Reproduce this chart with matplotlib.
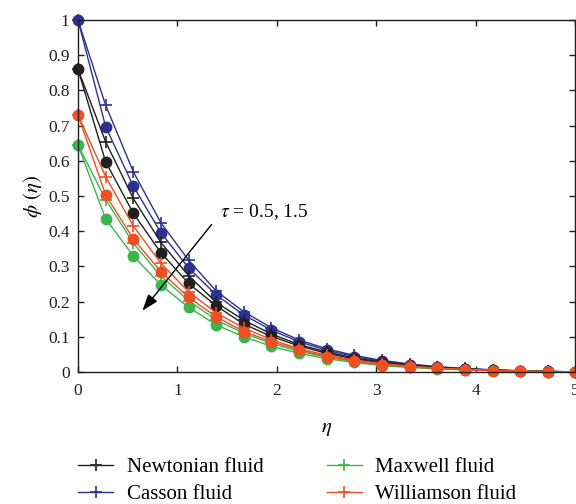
import matplotlib
matplotlib.use("Agg")
import matplotlib.pyplot as plt
from matplotlib.lines import Line2D

plt.rcParams['font.family'] = ['Liberation Serif', 'DejaVu Serif']
plt.rcParams['mathtext.fontset'] = 'stix'

# eta grid (19 points from 0 to 5)
eta = [0.000, 0.278, 0.556, 0.833, 1.111, 1.389, 1.667, 1.944, 2.222, 2.500,
       2.778, 3.056, 3.333, 3.611, 3.889, 4.167, 4.444, 4.722, 5.000]

# circles: tau = 0.5, plus: tau = 1.5
casson_c = [1.000, 0.697, 0.528, 0.396, 0.296, 0.219, 0.162, 0.119, 0.086, 0.062,
            0.044, 0.030, 0.021, 0.014, 0.009, 0.006, 0.003, 0.002, 0.000]
casson_p = [1.000, 0.758, 0.569, 0.424, 0.318, 0.230, 0.171, 0.126, 0.091, 0.066,
            0.047, 0.033, 0.023, 0.015, 0.010, 0.006, 0.004, 0.002, 0.000]
newton_c = [0.860, 0.597, 0.451, 0.339, 0.252, 0.188, 0.136, 0.101, 0.074, 0.053,
            0.037, 0.026, 0.018, 0.012, 0.008, 0.005, 0.003, 0.001, 0.000]
newton_p = [0.860, 0.654, 0.493, 0.368, 0.274, 0.198, 0.147, 0.108, 0.078, 0.057,
            0.040, 0.028, 0.020, 0.013, 0.009, 0.005, 0.003, 0.002, 0.000]
william_c = [0.730, 0.503, 0.378, 0.285, 0.212, 0.157, 0.115, 0.086, 0.063, 0.044,
             0.031, 0.021, 0.015, 0.010, 0.007, 0.004, 0.002, 0.001, 0.000]
william_p = [0.730, 0.555, 0.415, 0.309, 0.228, 0.168, 0.125, 0.092, 0.066, 0.048,
             0.034, 0.024, 0.017, 0.011, 0.007, 0.004, 0.003, 0.001, 0.000]
maxwell_c = [0.645, 0.435, 0.330, 0.247, 0.184, 0.134, 0.100, 0.073, 0.053, 0.038,
             0.027, 0.018, 0.013, 0.009, 0.006, 0.004, 0.002, 0.001, 0.000]
maxwell_p = [0.645, 0.490, 0.366, 0.273, 0.203, 0.148, 0.110, 0.081, 0.059, 0.042,
             0.030, 0.021, 0.015, 0.010, 0.006, 0.004, 0.002, 0.001, 0.000]

black = '#231f20'
blue = '#2e3192'
green = '#39b54a'
red = '#f04e23'

fig = plt.figure(figsize=(5.76, 5.04), dpi=100)
ax = fig.add_axes([0.1354, 0.2619, 0.8636, 0.6984])

series = [
    (casson_p, blue, '+'), (casson_c, blue, 'o'),
    (newton_p, black, '+'), (newton_c, black, 'o'),
    (maxwell_p, green, '+'), (maxwell_c, green, 'o'),
    (william_p, red, '+'), (william_c, red, 'o'),
]
for vals, col, mk in series:
    if mk == 'o':
        ax.plot(eta, vals, color=col, lw=1.0, marker='o', ms=7.5, mec=col, mfc=col,
                clip_on=False)
    else:
        ax.plot(eta, vals, color=col, lw=1.0, marker='+', ms=8, mew=1.2, clip_on=False)

ax.set_xlim(0, 5)
ax.set_ylim(0, 1)
ax.set_xticks([0, 1, 2, 3, 4, 5])
ax.set_yticks([0, 0.1, 0.2, 0.3, 0.4, 0.5, 0.6, 0.7, 0.8, 0.9, 1])
ax.set_yticklabels(['0', '0.1', '0.2', '0.3', '0.4', '0.5', '0.6', '0.7', '0.8', '0.9', '1'])
ax.tick_params(direction='in', top=True, right=True, labelsize=12.5, length=4,
               width=1.0, colors='#231f20')
ax.tick_params(axis='x', pad=8)
ax.tick_params(axis='y', pad=6)
for s in ax.spines.values():
    s.set_linewidth(1.0)
    s.set_color('#231f20')

ax.set_xlabel(r'$\eta$', fontsize=15, labelpad=14)
ax.set_ylabel(r'$\phi$ $(\eta)$', fontsize=15, labelpad=3)

ax.annotate('', xy=(0.63, 0.168), xytext=(1.36, 0.425),
            arrowprops=dict(arrowstyle='-|>,head_length=1.0,head_width=0.35',
                            color='black', lw=1.0))
ax.text(1.43, 0.455, r'$\tau$ = 0.5, 1.5', fontsize=14, va='center', ha='left')

handles = [
    Line2D([], [], color=black, lw=1.0, marker='+', ms=8, mew=1.2),
    Line2D([], [], color=blue, lw=1.0, marker='+', ms=8, mew=1.2),
    Line2D([], [], color=green, lw=1.0, marker='+', ms=8, mew=1.2),
    Line2D([], [], color=red, lw=1.0, marker='+', ms=8, mew=1.2),
]
labels = ['Newtonian fluid', 'Casson fluid', 'Maxwell fluid', 'Williamson fluid']
fig.legend(handles, labels, ncol=2, loc='upper left', bbox_to_anchor=(0.1215, 0.109),
           frameon=False, fontsize=15, handlelength=1.68, columnspacing=3.0,
           labelspacing=0.37, handletextpad=0.67, borderaxespad=0)

fig.savefig('out.png', dpi=100)
